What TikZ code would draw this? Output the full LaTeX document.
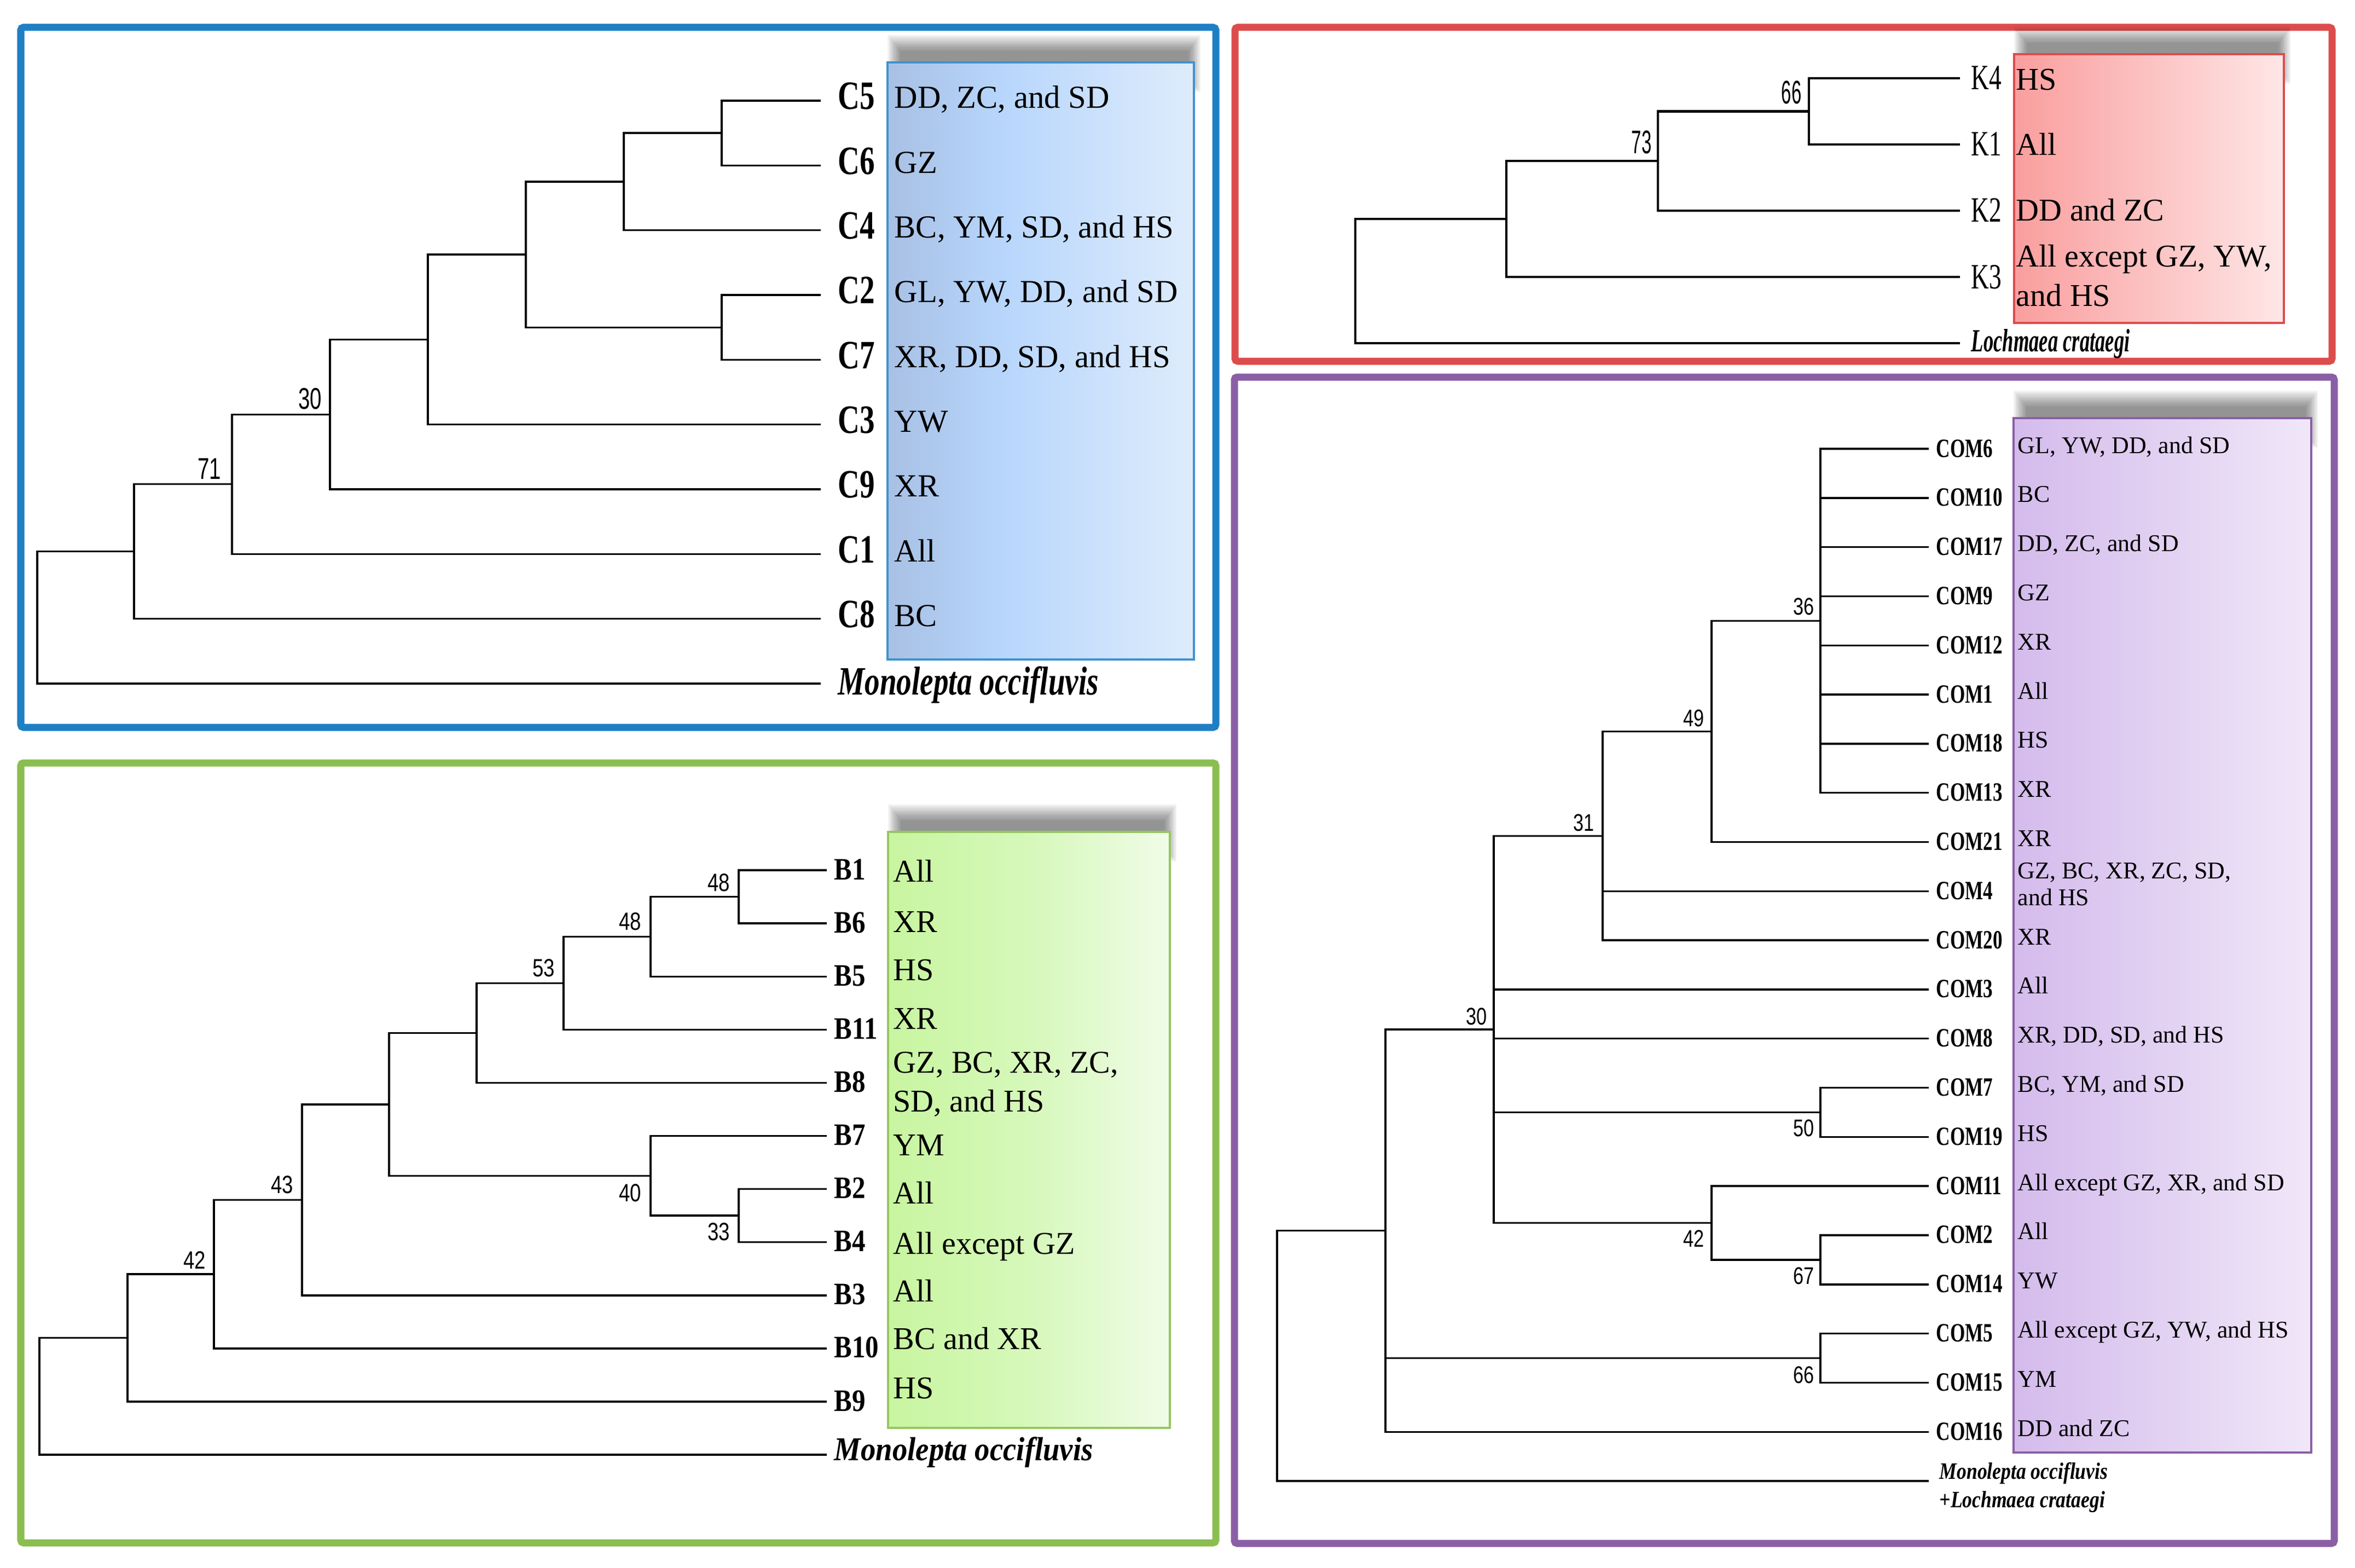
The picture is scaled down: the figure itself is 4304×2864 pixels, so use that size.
\documentclass[tikz,border=0pt]{standalone}
\usepackage{fontspec}
\setmainfont{Liberation Serif}
\newfontfamily\serN{Liberation Serif}
\newfontfamily\serCb[FakeStretch=0.75]{Liberation Serif}
\newfontfamily\serKr[FakeStretch=0.7]{Liberation Serif}
\newfontfamily\serLo[FakeStretch=0.62]{Liberation Serif}
\newfontfamily\serBg[FakeStretch=0.86]{Liberation Serif}
\newfontfamily\serGm[FakeStretch=0.9]{Liberation Serif}
\newfontfamily\serPc[FakeStretch=0.73]{Liberation Serif}
\newfontfamily\serPm[FakeStretch=0.83]{Liberation Serif}
\newfontfamily\sanR[FakeStretch=0.55]{Liberation Sans}
\newfontfamily\sanB[FakeStretch=0.7]{Liberation Sans}
\newfontfamily\sanG[FakeStretch=0.8]{Liberation Sans}
\newfontfamily\sanP[FakeStretch=0.78]{Liberation Sans}
\usetikzlibrary{calc}
\definecolor{cBlue}{RGB}{31,127,196}
\definecolor{cRed}{RGB}{221,76,76}
\definecolor{cGreen}{RGB}{139,190,80}
\definecolor{cPurple}{RGB}{139,95,166}
\definecolor{bL}{RGB}{168,192,228}
\definecolor{bM}{RGB}{184,214,252}
\definecolor{bR}{RGB}{222,236,252}
\definecolor{rL}{RGB}{250,158,158}
\definecolor{rR}{RGB}{254,230,230}
\definecolor{gL}{RGB}{200,245,160}
\definecolor{gM}{RGB}{214,248,186}
\definecolor{gR}{RGB}{240,252,232}
\definecolor{pL}{RGB}{212,187,236}
\definecolor{pR}{RGB}{240,231,248}
\pgfdeclarehorizontalshading{shBlue}{100bp}{color(0bp)=(bL); color(25bp)=(bL); color(44bp)=(bM); color(75bp)=(bR); color(100bp)=(bR)}
\pgfdeclarehorizontalshading{shRed}{100bp}{color(0bp)=(rL); color(25bp)=(rL); color(75bp)=(rR); color(100bp)=(rR)}
\pgfdeclarehorizontalshading{shGreen}{100bp}{color(0bp)=(gL); color(25bp)=(gL); color(50bp)=(gM); color(75bp)=(gR); color(100bp)=(gR)}
\pgfdeclarehorizontalshading{shPurple}{100bp}{color(0bp)=(pL); color(25bp)=(pL); color(75bp)=(pR); color(100bp)=(pR)}
% soft shadow: left x, top y, right x (picture units)
\newcommand\softshadow[3]{%
  \foreach \k in {1,...,10}{%
    \fill[black, opacity=0.05] ({#1+26-2.6*\k},{#2-18-3.2*\k}) rectangle ({#3-12+2.4*\k},{#2+24+3*\k});
  }%
}
\begin{document}
\begin{tikzpicture}[x=0.01cm,y=-0.01cm,
  panel/.style={line width=0.13cm, rounded corners=0.05cm},
  edge/.style={line width=0.034cm},
  redge/.style={line width=0.045cm},
  boxline/.style={line width=0.035cm},
  lab/.style={anchor=base west, inner sep=0pt},
  clab/.style={lab, font=\serCb\bfseries\fontsize{20.9}{25}\selectfont},
  cmono/.style={lab, font=\serCb\bfseries\itshape\fontsize{20.9}{25}\selectfont},
  btxt/.style={lab, font=\serN\fontsize{16.7}{20}\selectfont},
  klab/.style={lab, font=\serKr\fontsize{18.5}{22}\selectfont},
  rmono/.style={lab, font=\serLo\bfseries\itshape\fontsize{16.8}{20}\selectfont},
  rtxt/.style={lab, font=\serN\fontsize{16.5}{20.2}\selectfont},
  blab/.style={lab, font=\serBg\bfseries\fontsize{16.2}{20}\selectfont},
  gmono/.style={lab, font=\serGm\bfseries\itshape\fontsize{17.3}{21}\selectfont},
  gtxt/.style={lab, font=\serN\fontsize{16.5}{20.2}\selectfont},
  plab/.style={lab, font=\serPc\bfseries\fontsize{13.7}{16}\selectfont},
  pmono/.style={lab, font=\serPm\bfseries\itshape\fontsize{12.2}{15}\selectfont},
  ptxt/.style={lab, font=\serN\fontsize{12.5}{14.2}\selectfont},
  supB/.style={inner sep=0pt, font=\sanB\fontsize{15.6}{18}\selectfont},
  supR/.style={inner sep=0pt, font=\sanR\fontsize{17}{20}\selectfont},
  supG/.style={inner sep=0pt, font=\sanG\fontsize{13}{16}\selectfont},
  supP/.style={inner sep=0pt, font=\sanP\fontsize{12.5}{15}\selectfont}
]
\fill[white] (0,0) rectangle (4304,2864);
\useasboundingbox (0,0) rectangle (4304,2864);

%% ---------------- panels ----------------
\draw[panel, cBlue] (38,50) rectangle (2222,1329);
\draw[panel, cRed] (2257,50) rectangle (4262,660);
\draw[panel, cGreen] (38,1394) rectangle (2222,2819);
\draw[panel, cPurple] (2256,689) rectangle (4266,2820);

%% ---------------- shaded boxes with soft shadows ----------------
\softshadow{1622}{114}{2182}
\path[shade, shading=shBlue, draw=cBlue!85, boxline] (1622,114) rectangle (2182,1205);
\softshadow{3681}{99}{4174}
\path[shade, shading=shRed, draw=cRed, boxline] (3681,99) rectangle (4174,590);
\softshadow{1623}{1520}{2138}
\path[shade, shading=shGreen, draw=cGreen!90, boxline] (1623,1520) rectangle (2138,2609);
\softshadow{3680}{764}{4224}
\path[shade, shading=shPurple, draw=cPurple, boxline] (3680,764) rectangle (4224,2654);

%% ================= BLUE tree =================
\foreach \nm/\ii/\tx in {C5/0/{DD, ZC, and SD},C6/1/GZ,C4/2/{BC, YM, SD, and HS},C2/3/{GL, YW, DD, and SD},C7/4/{XR, DD, SD, and HS},C3/5/YW,C9/6/XR,C1/7/All,C8/8/BC}{
  \pgfmathsetmacro\yy{184+118.33*\ii}
  \coordinate (b\nm) at (1500,\yy);
  \node[clab] (lb\nm) at (1531,\yy+16) {\nm};
  \node[btxt] (tb\nm) at (1634,\yy+14) {\tx};
}
\coordinate (bMo) at (1500,1249);
\node[cmono] (lbMo) at (1531,1269) {Monolepta occifluvis};
\coordinate (bn1) at (1319,243.17);
\coordinate (bn2) at (1140,331.9);
\coordinate (bn3) at (1319,598.2);
\coordinate (bn4) at (961,465.0);
\coordinate (bn5) at (782,620.3);
\coordinate (bn6) at (603,757.2);
\coordinate (bn7) at (424,884.7);
\coordinate (bn8) at (245,1007.7);
\coordinate (bn0) at (68,1128.3);
\draw[edge] (bn1) |- (bC5) (bn1) |- (bC6)
  (bn2) |- (bn1) (bn2) |- (bC4)
  (bn3) |- (bC2) (bn3) |- (bC7)
  (bn4) |- (bn2) (bn4) |- (bn3)
  (bn5) |- (bn4) (bn5) |- (bC3)
  (bn6) |- (bn5) (bn6) |- (bC9)
  (bn7) |- (bn6) (bn7) |- (bC1)
  (bn8) |- (bn7) (bn8) |- (bC8)
  (bn0) |- (bn8) (bn0) |- (bMo);
\node[supB, anchor=south east] (sb30) at (589,749) {30};
\node[supB, anchor=south east] (sb71) at (405,876) {71};

%% ================= RED tree =================
\foreach \nm/\yy in {K4/143,K1/264,K2/385,K3/506}{
  \coordinate (r\nm) at (3582,\yy);
  \node[klab] (lr\nm) at (3602,\yy+21) {\nm};
}
\coordinate (rLo) at (3582,627);
\node[rmono] (lrLo) at (3602,642) {Lochmaea crataegi};
\node[rtxt] (trK4) at (3684,165) {HS};
\node[rtxt] (trK1) at (3684,284) {All};
\node[rtxt] (trK2) at (3684,403) {DD and ZC};
\node[rtxt] (trK3) at (3684,488) {\begin{tabular}[t]{@{}l@{}}All except GZ, YW,\\and HS\end{tabular}};
\coordinate (rn1) at (3306,203.5);
\coordinate (rn2) at (3030,294.25);
\coordinate (rn3) at (2753,400.1);
\coordinate (rn0) at (2477,513.6);
\draw[redge] (rn1) |- (rK4) (rn1) |- (rK1)
  (rn2) |- (rn1) (rn2) |- (rK2)
  (rn3) |- (rn2) (rn3) |- (rK3)
  (rn0) |- (rn3) (rn0) |- (rLo);
\node[supR, anchor=south east] (sr66) at (3293,191) {66};
\node[supR, anchor=south east] (sr73) at (3019,282) {73};

%% ================= GREEN tree =================
\foreach \nm/\ii in {B1/0,B6/1,B5/2,B11/3,B8/4,B7/5,B2/6,B4/7,B3/8,B10/9,B9/10}{
  \pgfmathsetmacro\yy{1590+97.1*\ii}
  \coordinate (g\nm) at (1511,\yy);
  \node[blab] (lg\nm) at (1524,\yy+17) {\nm};
}
\coordinate (gMo) at (1511,2658.1);
\node[gmono] (lgMo) at (1524,2668) {Monolepta occifluvis};
\foreach \nm/\yy/\tx in {B1/1611/All,B6/1703/XR,B5/1791/HS,B11/1880/XR,B7/2111/YM,B2/2199/All,B4/2291/{All except GZ},B3/2378/All,B10/2465/{BC and XR},B9/2555/HS}{
  \node[gtxt] (tg\nm) at (1632,\yy) {\tx};
}
\node[gtxt] (tgB8) at (1632,1960) {\begin{tabular}[t]{@{}l@{}}GZ, BC, XR, ZC,\\SD, and HS\end{tabular}};
\coordinate (gn1) at (1350,1638.55);
\coordinate (gn2) at (1189,1711.4);
\coordinate (gn3) at (1030,1796.35);
\coordinate (gn4) at (871,1887.4);
\coordinate (gn5) at (1350,2221.15);
\coordinate (gn6) at (1189,2148.3);
\coordinate (gn7) at (711,2017.85);
\coordinate (gn8) at (552,2192.3);
\coordinate (gn9) at (391,2328.1);
\coordinate (gn10) at (233,2444.55);
\coordinate (gn0) at (72,2551.3);
\draw[edge] (gn1) |- (gB1) (gn1) |- (gB6)
  (gn2) |- (gn1) (gn2) |- (gB5)
  (gn3) |- (gn2) (gn3) |- (gB11)
  (gn4) |- (gn3) (gn4) |- (gB8)
  (gn5) |- (gB2) (gn5) |- (gB4)
  (gn6) |- (gB7) (gn6) |- (gn5)
  (gn7) |- (gn4) (gn7) |- (gn6)
  (gn8) |- (gn7) (gn8) |- (gB3)
  (gn9) |- (gn8) (gn9) |- (gB10)
  (gn10) |- (gn9) (gn10) |- (gB9)
  (gn0) |- (gn10) (gn0) |- (gMo);
\node[supG, anchor=south east] (sg48a) at (1335,1630) {48};
\node[supG, anchor=south east] (sg48b) at (1173,1701) {48};
\node[supG, anchor=south east] (sg53) at (1015,1786) {53};
\node[supG, anchor=north east] (sg33) at (1335,2234) {33};
\node[supG, anchor=north east] (sg40) at (1173,2163) {40};
\node[supG, anchor=south east] (sg43) at (537,2182) {43};
\node[supG, anchor=south east] (sg42) at (377,2319) {42};

%% ================= PURPLE tree =================
\foreach \nm/\ii/\tx in {COM6/0/{GL, YW, DD, and SD},COM10/1/BC,COM17/2/{DD, ZC, and SD},COM9/3/GZ,COM12/4/XR,COM1/5/All,COM18/6/HS,COM13/7/XR,COM21/8/XR,COM20/10/XR,COM3/11/All,COM8/12/{XR, DD, SD, and HS},COM7/13/{BC, YM, and SD},COM19/14/HS,COM11/15/{All except GZ, XR, and SD},COM2/16/All,COM14/17/YW,COM5/18/{All except GZ, YW, and HS},COM15/19/YM,COM16/20/{DD and ZC}}{
  \pgfmathsetmacro\yy{820+89.81*\ii}
  \coordinate (p\nm) at (3525,\yy);
  \node[plab] (lp\nm) at (3538,\yy+15) {\nm};
  \node[ptxt] (tp\nm) at (3687,\yy+8) {\tx};
}
\coordinate (pCOM4) at (3525,1628.3);
\node[plab] (lpCOM4) at (3538,1643.3) {COM4};
\node[ptxt] (tpCOM4) at (3687,1605) {\begin{tabular}[t]{@{}l@{}}GZ, BC, XR, ZC, SD,\\and HS\end{tabular}};
\coordinate (pMo) at (3525,2706);
\node[pmono] (lpMo) at (3544,2702) {\begin{tabular}[t]{@{}l@{}}Monolepta occifluvis\\+Lochmaea crataegi\end{tabular}};
\coordinate (pn36) at (3327,1134.4);
\coordinate (pn49) at (3128,1336.4);
\coordinate (pn31) at (2929,1527.3);
\coordinate (pn30) at (2730,1880.9);
\coordinate (pn50) at (3327,2032.4);
\coordinate (pn67) at (3327,2301.9);
\coordinate (pn42) at (3128,2234.55);
\coordinate (pn66) at (3327,2481.5);
\coordinate (pnA) at (2532,2248.6);
\coordinate (pn0) at (2334,2477.3);
\draw[edge] (pn36) |- (pCOM6) (pn36) |- (pCOM10) (pn36) |- (pCOM17) (pn36) |- (pCOM9)
  (pn36) |- (pCOM12) (pn36) |- (pCOM1) (pn36) |- (pCOM18) (pn36) |- (pCOM13)
  (pn49) |- (pn36) (pn49) |- (pCOM21)
  (pn31) |- (pn49) (pn31) |- (pCOM4) (pn31) |- (pCOM20)
  (pn50) |- (pCOM7) (pn50) |- (pCOM19)
  (pn67) |- (pCOM2) (pn67) |- (pCOM14)
  (pn42) |- (pCOM11) (pn42) |- (pn67)
  (pn30) |- (pn31) (pn30) |- (pCOM3) (pn30) |- (pCOM8) (pn30) |- (pn50) (pn30) |- (pn42)
  (pn66) |- (pCOM5) (pn66) |- (pCOM15)
  (pnA) |- (pn30) (pnA) |- (pn66) (pnA) |- (pCOM16)
  (pn0) |- (pnA) (pn0) |- (pMo);
\node[supP, anchor=south east] (sp36) at (3316,1125) {36};
\node[supP, anchor=south east] (sp49) at (3115,1329) {49};
\node[supP, anchor=south east] (sp31) at (2914,1520) {31};
\node[supP, anchor=south east] (sp30) at (2718,1874) {30};
\node[supP, anchor=north east] (sp50) at (3316,2045) {50};
\node[supP, anchor=north east] (sp42) at (3115,2247) {42};
\node[supP, anchor=north east] (sp67) at (3316,2315) {67};
\node[supP, anchor=north east] (sp66) at (3316,2496) {66};
\end{tikzpicture}
\end{document}
